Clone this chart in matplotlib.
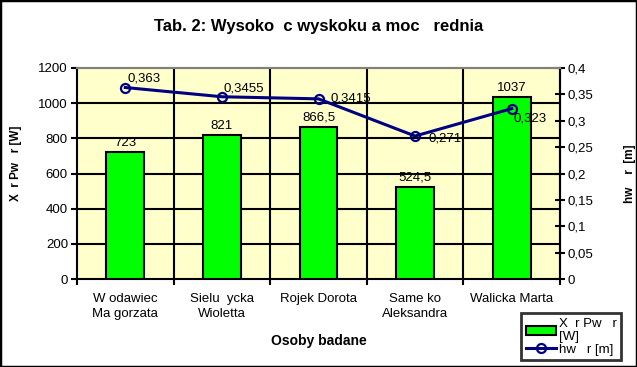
import matplotlib
matplotlib.use("Agg")
import matplotlib.pyplot as plt
from matplotlib.patches import Rectangle
from matplotlib.ticker import FixedLocator, FuncFormatter

plt.rcParams['font.family'] = ['Liberation Sans', 'DejaVu Sans']

# ---- data ----
categories = ["W odawiec\nMa gorzata", "Sielu  ycka\nWioletta", "Rojek Dorota",
              "Same ko\nAleksandra", "Walicka Marta"]
power_values = [723, 821, 866.5, 524.5, 1037]
height_values = [0.363, 0.3455, 0.3415, 0.271, 0.323]
left_ticks = [0, 200, 400, 600, 800, 1000, 1200]
right_ticks = [0, 0.05, 0.1, 0.15, 0.2, 0.25, 0.3, 0.35, 0.4]
title = "Tab. 2: Wysoko  c wyskoku a moc   rednia"
xlabel = "Osoby badane"
ylabel_left = "X  r Pw   r [W]"
ylabel_right = "hw    r  [m]"
legend_labels = ["X  r Pw   r\n[W]", "hw   r [m]"]

def comma(v):
    return f"{v:g}".replace('.', ',')

W, H = 637, 367
FS = 9.5
fig = plt.figure(figsize=(W / 100, H / 100), dpi=100)
fig.patch.set_facecolor('white')

ax = fig.add_axes([77 / W, 1 - 279 / H, (560 - 77) / W, (279 - 68) / H])
ax.set_facecolor('#FFFFCC')
n = len(categories)
x = list(range(n))

bars = ax.bar(x, power_values, width=0.39, color='#00FF00', edgecolor='black',
              linewidth=1.5, zorder=3)
ax.set_xlim(-0.5, n - 0.5)
ax.set_ylim(left_ticks[0], left_ticks[-1])
ax.set_yticks(left_ticks)
ax.yaxis.set_major_formatter(FuncFormatter(lambda v, p: comma(v)))
ax.xaxis.set_major_locator(FixedLocator([i - 0.5 for i in range(n + 1)]))
ax.xaxis.set_minor_locator(FixedLocator(x))
ax.set_xticklabels([], minor=False)
ax.set_xticklabels(categories, minor=True, linespacing=1.3)
ax.tick_params(axis='x', which='minor', length=0, pad=10, labelsize=FS)
ax.tick_params(axis='x', which='major', direction='out', length=4.5, width=1.5)
ax.tick_params(axis='y', direction='out', length=4.5, width=1.5, labelsize=FS, pad=2)
ax.set_axisbelow(True)
ax.grid(True, axis='both', which='major', color='black', linewidth=1.5)
ytk = ax.yaxis.get_major_ticks()
ytk[0].gridline.set_visible(False)
ytk[-1].gridline.set_visible(False)
xtk = ax.xaxis.get_major_ticks()
xtk[0].gridline.set_visible(False)
xtk[-1].gridline.set_visible(False)

for s in ['left', 'bottom', 'right']:
    ax.spines[s].set_color('black')
    ax.spines[s].set_linewidth(1.5)
ax.spines['top'].set_color('#808080')
ax.spines['top'].set_linewidth(1.5)

for b, v in zip(bars, power_values):
    ax.annotate(comma(v), (b.get_x() + b.get_width() / 2, v), xytext=(0, 2),
                textcoords='offset points', ha='center', va='bottom', fontsize=FS,
                zorder=5)

ax.set_xlabel(xlabel, fontsize=10, fontweight='bold')
ax.xaxis.set_label_coords(0.5, (279 - 334) / 211)
ax.set_ylabel(ylabel_left, fontsize=8.5, fontweight='bold')
ax.yaxis.set_label_coords((22 - 77) / 483, 0.55)

ax2 = ax.twinx()
ax2.set_ylim(right_ticks[0], right_ticks[-1])
ax2.set_yticks(right_ticks)
ax2.yaxis.set_major_formatter(FuncFormatter(lambda v, p: comma(round(v, 2))))
ax2.tick_params(axis='y', direction='inout', length=7, width=1.5, labelsize=FS, pad=2)
ax2.spines['right'].set_linewidth(1.5)
ax2.spines['top'].set_color('#808080')
ax2.spines['top'].set_linewidth(1.5)
ax2.spines['left'].set_visible(False)
ax2.spines['bottom'].set_visible(False)
line, = ax2.plot(x, height_values, color='#000080', linewidth=2.2, marker='o',
                 markersize=6.5, markerfacecolor='none', markeredgecolor='#000080',
                 markeredgewidth=1.6, zorder=4)
ax2.set_ylabel(ylabel_right, fontsize=8.5, fontweight='bold')
ax2.yaxis.set_label_coords((624 - 77) / 483, 0.5)

label_offsets = [(1.5, 6.5), (1, 6), (8.5, 0), (9.5, -1.5), (1.5, -7)]
for i, (v, off) in enumerate(zip(height_values, label_offsets)):
    ax2.annotate(comma(v), (x[i], v), xytext=off, textcoords='offset points',
                 ha='left', va='center', fontsize=FS, zorder=6)

fig.text(0.5, 1 - 27 / H, title, ha='center', va='center', fontsize=12,
         fontweight='bold')

leg = fig.legend([bars, line], legend_labels, loc='upper left',
                 bbox_to_anchor=(521 / W, 1 - 313 / H), bbox_transform=fig.transFigure,
                 fontsize=FS, frameon=True, fancybox=False, shadow=False,
                 borderpad=0.35, labelspacing=0.0, handlelength=2.3, handletextpad=0.2,
                 borderaxespad=0)
leg.get_frame().set_edgecolor('black')
leg.get_frame().set_linewidth(2)

fig.add_artist(Rectangle((0, 0), 1, 1, transform=fig.transFigure, fill=False,
                         edgecolor='black', linewidth=2.5, zorder=10))

fig.savefig('out.png', dpi=100)
